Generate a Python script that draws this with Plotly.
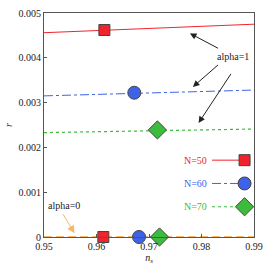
import plotly.graph_objects as go

# data
ns_line = [0.95, 0.99]
r_n50_line = [0.00456, 0.00475]
r_n60_line = [0.00315, 0.00328]
r_n70_line = [0.00233, 0.00241]
r_alpha0_line = [0.0, 0.0]

ns_n50_pts = [0.9615, 0.9613]
r_n50_pts = [0.00462, 0.0]
ns_n60_pts = [0.9672, 0.9681]
r_n60_pts = [0.00322, 0.0]
ns_n70_pts = [0.9716, 0.9720]
r_n70_pts = [0.00239, 0.0]

x_ticks = [0.95, 0.96, 0.97, 0.98, 0.99]
y_ticks = [0, 0.001, 0.002, 0.003, 0.004, 0.005]
y_ticklabels = ["0", "0.001", "0.002", "0.003", "0.004", "0.005"]
legend_names = ["N=50", "N=60", "N=70"]

RED, BLUE, GREEN, ORANGE = "#f0242c", "#3f63e8", "#3dbb3d", "#f6b96a"
FONT = "Liberation Serif, Times New Roman, serif"

fig = go.Figure()
fig.add_trace(go.Scatter(x=ns_line, y=r_alpha0_line, mode="lines",
                         line=dict(color=ORANGE, width=2, dash="8px,4px"), showlegend=False))
fig.add_trace(go.Scatter(x=ns_line, y=r_n50_line, mode="lines",
                         line=dict(color=RED, width=1), showlegend=False))
fig.add_trace(go.Scatter(x=ns_line, y=r_n60_line, mode="lines",
                         line=dict(color=BLUE, width=1, dash="dashdot"), showlegend=False))
fig.add_trace(go.Scatter(x=ns_line, y=r_n70_line, mode="lines",
                         line=dict(color=GREEN, width=1.2, dash="dot"), showlegend=False))
fig.add_trace(go.Scatter(x=ns_n50_pts, y=r_n50_pts, mode="markers",
                         marker=dict(symbol="square", size=11, color=RED, line=dict(color="#444", width=1)),
                         showlegend=False, cliponaxis=False))
fig.add_trace(go.Scatter(x=ns_n60_pts, y=r_n60_pts, mode="markers",
                         marker=dict(symbol="circle", size=13, color=BLUE, line=dict(color="#444", width=1)),
                         showlegend=False, cliponaxis=False))
fig.add_trace(go.Scatter(x=ns_n70_pts, y=r_n70_pts, mode="markers",
                         marker=dict(symbol="diamond", size=14, color=GREEN, line=dict(color="#444", width=1)),
                         showlegend=False, cliponaxis=False))

# manual legend (text left of symbol) on an overlay axis in [0,1]
leg_y = [0.343, 0.239, 0.135]
leg_colors = [RED, BLUE, GREEN]
leg_dash = ["solid", "dashdot", "dot"]
leg_sym = ["square", "circle", "diamond"]
leg_size = [11, 13, 14]
for i in range(3):
    fig.add_trace(go.Scatter(x=[0.8, 0.955], y=[leg_y[i]] * 2, mode="lines",
                             line=dict(color=leg_colors[i], width=1, dash=leg_dash[i]),
                             xaxis="x2", yaxis="y2", showlegend=False))
    fig.add_trace(go.Scatter(x=[0.955], y=[leg_y[i]], mode="markers",
                             marker=dict(symbol=leg_sym[i], size=leg_size[i], color=leg_colors[i],
                                         line=dict(color="#444", width=1)),
                             xaxis="x2", yaxis="y2", showlegend=False, cliponaxis=False))
    fig.add_annotation(x=0.786, y=leg_y[i], xref="x2", yref="y2", text=legend_names[i],
                       showarrow=False, xanchor="right", font=dict(family=FONT, size=10, color=leg_colors[i]))

# annotations
fig.add_annotation(x=0.898, y=0.804, xref="x2", yref="y2", text="alpha=1", showarrow=False,
                   font=dict(family=FONT, size=10, color="#222"))
arrows = [((0.836, 0.839), (0.695, 0.909)),
          ((0.836, 0.774), (0.709, 0.670)),
          ((0.895, 0.735), (0.736, 0.509))]
for (tx, ty), (hx, hy) in arrows:
    fig.add_annotation(x=hx, y=hy, ax=tx, ay=ty, xref="x2", yref="y2", axref="x2", ayref="y2",
                       text="", showarrow=True, arrowhead=2, arrowsize=1.3, arrowwidth=1, arrowcolor="#222")
fig.add_annotation(x=0.093, y=0.139, xref="x2", yref="y2", text="alpha=0", showarrow=False,
                   font=dict(family=FONT, size=10, color="#222"))
fig.add_annotation(x=0.145, y=0.017, ax=0.086, ay=0.109, xref="x2", yref="y2", axref="x2", ayref="y2",
                   text="", showarrow=True, arrowhead=2, arrowsize=1.5, arrowwidth=1, arrowcolor=ORANGE)

fig.update_layout(
    width=270, height=270,
    margin=dict(l=39, r=11, t=7, b=33),
    plot_bgcolor="white", paper_bgcolor="white",
    font=dict(family=FONT, size=10, color="#222"),
    xaxis=dict(range=[0.95, 0.99], tickvals=x_ticks, ticktext=[f"{v:.2f}" for v in x_ticks],
               showgrid=False, zeroline=False, showline=True, mirror=True, linecolor="#555",
               linewidth=1, ticks="inside", ticklen=3, tickcolor="#555",
               title=dict(text="<i>n<sub>s</sub></i>", standoff=2, font=dict(size=10))),
    yaxis=dict(range=[0, 0.005], tickvals=y_ticks, ticktext=y_ticklabels,
               showgrid=False, zeroline=False, showline=True, mirror=True, linecolor="#555",
               linewidth=1, ticks="inside", ticklen=3, tickcolor="#555",
               title=dict(text="<i>r</i>", standoff=4, font=dict(size=10))),
    xaxis2=dict(range=[0, 1], overlaying="x", visible=False, fixedrange=True),
    yaxis2=dict(range=[0, 1], overlaying="y", visible=False, fixedrange=True),
)

fig.write_html("out.html", config={"displayModeBar": False},
               post_script="document.body.style.margin='0';document.body.style.overflow='hidden';")
